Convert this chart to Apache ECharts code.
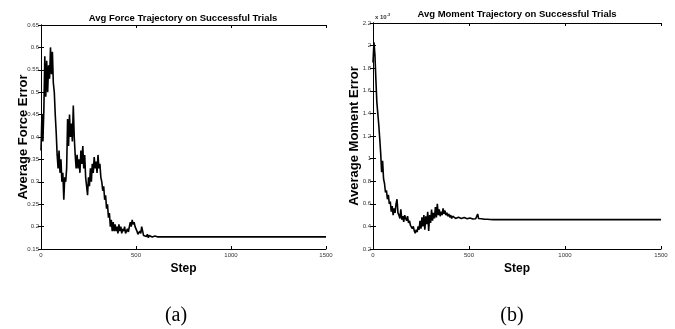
<!DOCTYPE html>
<html>
<head>
<meta charset="utf-8">
<script src="https://cdn.jsdelivr.net/npm/echarts@6/dist/echarts.min.js"></script>
<style>
  html, body { margin: 0; padding: 0; background: #fff; }
  #chart { width: 675px; height: 329px; }
</style>
</head>
<body>
<div id="chart"></div>
<script>
// 采样间隔（步）
const stepSize = 5
const lastStep = 1500
// x 轴刻度
const xTicks = [0, 500, 1000, 1500]
// 左图：平均力误差（每 5 步读一个值）
const forceVals = [
  0.37, 0.45, 0.39, 0.46, 0.58, 0.49, 0.57, 0.50, 0.56, 0.53,
  0.60, 0.54, 0.59, 0.52, 0.50, 0.45, 0.41, 0.36, 0.33, 0.37,
  0.32, 0.35, 0.30, 0.32, 0.26, 0.31, 0.30, 0.33, 0.44, 0.38,
  0.45, 0.40, 0.43, 0.39, 0.47, 0.40, 0.36, 0.33, 0.36, 0.33,
  0.35, 0.32, 0.37, 0.34, 0.38, 0.33, 0.36, 0.31, 0.29, 0.27,
  0.31, 0.29, 0.33, 0.30, 0.34, 0.32, 0.355, 0.33, 0.345, 0.32,
  0.36, 0.33, 0.34, 0.31, 0.30, 0.28, 0.29, 0.26, 0.27, 0.24,
  0.25, 0.22, 0.23, 0.20, 0.215, 0.19, 0.21, 0.19, 0.205, 0.19,
  0.20, 0.185, 0.205, 0.19, 0.20, 0.185, 0.195, 0.19, 0.20, 0.185,
  0.19, 0.195, 0.188, 0.20, 0.21, 0.20, 0.215, 0.205, 0.21, 0.20,
  0.195, 0.19, 0.183, 0.18, 0.19, 0.185, 0.20, 0.19, 0.18, 0.176,
  0.182, 0.178, 0.183, 0.175, 0.18, 0.176, 0.179, 0.177, 0.18, 0.177,
  0.179, 0.177, 0.178, 0.177, 0.178, 0.177, 0.177, 0.178, 0.177, 0.177,
  0.177, 0.177, 0.177, 0.177, 0.177, 0.177, 0.177
]
const forceTail = 0.177
const forceTicks = [0.15, 0.65, 0.05]
// 右图：平均力矩误差（单位 x10^-3）
const momentVals = [
  1.85, 2.03, 1.92, 1.70, 1.50, 1.40, 1.30, 1.18, 1.05, 0.88,
  0.98, 0.82, 0.78, 0.70, 0.72, 0.64, 0.68, 0.60, 0.62, 0.53,
  0.58, 0.50, 0.56, 0.52, 0.60, 0.64, 0.52, 0.50, 0.47, 0.55,
  0.46, 0.49, 0.44, 0.50, 0.47, 0.45, 0.49, 0.43, 0.45, 0.41,
  0.42, 0.38, 0.40, 0.36, 0.34, 0.37, 0.35, 0.40, 0.37, 0.45,
  0.38, 0.48, 0.40, 0.50, 0.37, 0.49, 0.42, 0.53, 0.36, 0.50,
  0.43, 0.55, 0.45, 0.52, 0.47, 0.57, 0.48, 0.60, 0.50, 0.55,
  0.49, 0.53, 0.50, 0.56, 0.51, 0.54, 0.50, 0.52, 0.49, 0.51,
  0.48, 0.50, 0.47, 0.49, 0.475, 0.49, 0.47, 0.485, 0.47, 0.48,
  0.475, 0.48, 0.47, 0.475, 0.468, 0.478, 0.47, 0.475, 0.468, 0.472,
  0.468, 0.475, 0.466, 0.47, 0.465, 0.47, 0.466, 0.468, 0.47, 0.51,
  0.47, 0.468, 0.465, 0.467, 0.464, 0.466, 0.463, 0.465, 0.462, 0.463,
  0.462, 0.461, 0.461, 0.46, 0.46, 0.46, 0.46
]
const momentTail = 0.46
const momentTicks = [0.2, 2.2, 0.2]

const toPairs = (vals, tail) => {
  const pts = vals.map((v, i) => [i * stepSize, v])
  pts.push([lastStep, tail])
  return pts
}

const tickFont = { fontFamily: 'Liberation Sans', fontSize: 6, color: '#333' }
const nameFont = { fontFamily: 'Liberation Sans', fontWeight: 'bold', color: '#000' }

const makeX = (gridIndex, top) => ({
  type: 'value',
  gridIndex,
  position: top ? 'top' : 'bottom',
  min: xTicks[0],
  max: xTicks[xTicks.length - 1],
  interval: xTicks[1] - xTicks[0],
  name: top ? '' : 'Step',
  nameLocation: 'middle',
  nameGap: 10,
  nameTextStyle: { ...nameFont, fontSize: 12 },
  axisLine: { show: true, lineStyle: { color: '#000', width: 1 } },
  axisTick: { show: true, inside: true, length: 3, lineStyle: { color: '#000' } },
  axisLabel: { show: !top, ...tickFont, margin: 3, formatter: v => String(v) },
  splitLine: { show: false }
})

const makeY = (gridIndex, right, ticks, name, gap, fmt) => ({
  type: 'value',
  gridIndex,
  position: right ? 'right' : 'left',
  min: ticks[0],
  max: ticks[1],
  interval: ticks[2],
  name: right ? '' : name,
  nameLocation: 'middle',
  nameGap: gap,
  nameMoveOverlap: false,
  nameTextStyle: { ...nameFont, fontSize: 13 },
  axisLine: { show: true, lineStyle: { color: '#000', width: 1 } },
  axisTick: { show: true, inside: true, length: 3, lineStyle: { color: '#000' } },
  axisLabel: { show: !right, ...tickFont, margin: 2, formatter: fmt },
  splitLine: { show: false }
})

const chart = echarts.init(document.getElementById('chart'))
const option = {
  backgroundColor: '#fff',
  animation: false,
  title: [
    { text: 'Avg Force Trajectory on Successful Trials', left: 183, top: 13, padding: 0, textAlign: 'center',
      textStyle: { ...nameFont, fontSize: 9.5 } },
    { text: 'Avg Moment Trajectory on Successful Trials', left: 517, top: 9, padding: 0, textAlign: 'center',
      textStyle: { ...nameFont, fontSize: 9.5 } },
    { text: '{a|x 10}{b|-3}', left: 375, top: 13, padding: 0,
      textStyle: { rich: { a: { ...tickFont, fontSize: 6 }, b: { ...tickFont, fontSize: 4, verticalAlign: 'top', padding: [0, 0, 4, 0] } } } },
    { text: '(a)', left: 171, top: 301, textAlign: 'center',
      textStyle: { fontFamily: 'Liberation Serif', fontSize: 20, fontWeight: 'normal', color: '#000' } },
    { text: '(b)', left: 507, top: 301, textAlign: 'center',
      textStyle: { fontFamily: 'Liberation Serif', fontSize: 20, fontWeight: 'normal', color: '#000' } }
  ],
  grid: [
    { left: 41, right: 349, top: 25, bottom: 80 },
    { left: 373, right: 14, top: 23, bottom: 80 }
  ],
  xAxis: [makeX(0, false), makeX(0, true), makeX(1, false), makeX(1, true)],
  yAxis: [
    makeY(0, false, forceTicks, 'Average Force Error', 11, v => String(parseFloat(v.toFixed(2)))),
    makeY(0, true, forceTicks, '', 0, null),
    makeY(1, false, momentTicks, 'Average Moment Error', 12, v => String(parseFloat(v.toFixed(1)))),
    makeY(1, true, momentTicks, '', 0, null)
  ],
  series: [
    {
      type: 'line', xAxisIndex: 0, yAxisIndex: 0,
      data: toPairs(forceVals, forceTail),
      showSymbol: false, lineStyle: { color: '#000', width: 1.6 }
    },
    {
      type: 'line', xAxisIndex: 2, yAxisIndex: 2,
      data: toPairs(momentVals, momentTail),
      showSymbol: false, lineStyle: { color: '#000', width: 1.6 }
    }
  ]
}
chart.setOption(option)
</script>
</body>
</html>
